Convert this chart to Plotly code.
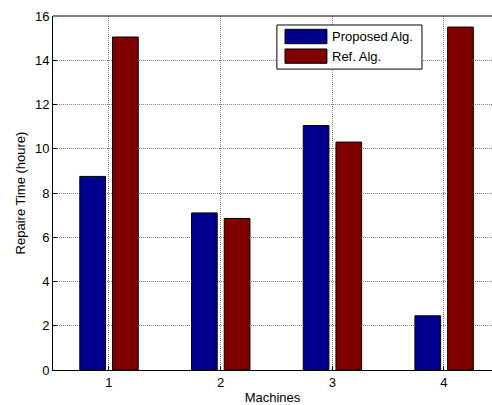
import plotly.graph_objects as go

# Repair time per machine for the two algorithms
machines = [1, 2, 3, 4]
proposed = [8.75, 7.1, 11.05, 2.45]
reference = [15.05, 6.85, 10.3, 15.5]
series_names = ["Proposed Alg.", "Ref. Alg."]
y_ticks = [0, 2, 4, 6, 8, 10, 12, 14, 16]

BLUE = "#00008F"
DARKRED = "#800000"
FONT = "Liberation Sans, Arial, sans-serif"
GRID = "#808080"

fig = go.Figure()
fig.add_trace(go.Bar(x=machines, y=proposed, name=series_names[0],
                     width=0.23, offset=-0.26,
                     marker=dict(color=BLUE, line=dict(color="black", width=1))))
fig.add_trace(go.Bar(x=machines, y=reference, name=series_names[1],
                     width=0.23, offset=0.033,
                     marker=dict(color=DARKRED, line=dict(color="black", width=1))))

# Legend box drawn in paper coordinates
legend_shapes = [
    dict(type="rect", xref="paper", yref="paper", x0=0.510, x1=0.8405, y0=0.850, y1=0.9746,
         line=dict(color="black", width=1), fillcolor="white", layer="above"),
    dict(type="rect", xref="paper", yref="paper", x0=0.5285, x1=0.624, y0=0.9218, y1=0.9624,
         line=dict(color="black", width=1), fillcolor=BLUE, layer="above"),
    dict(type="rect", xref="paper", yref="paper", x0=0.5285, x1=0.624, y0=0.8664, y1=0.9068,
         line=dict(color="black", width=1), fillcolor=DARKRED, layer="above"),
    # top frame line
    dict(type="line", xref="paper", yref="paper", x0=0, x1=1, y0=1, y1=1,
         line=dict(color="black", width=1), layer="above"),
]
legend_text = [
    dict(text=series_names[0], xref="paper", yref="paper", x=0.630, y=0.9421,
         xanchor="left", yanchor="middle", showarrow=False,
         font=dict(family=FONT, size=13, color="black")),
    dict(text=series_names[1], xref="paper", yref="paper", x=0.630, y=0.8866,
         xanchor="left", yanchor="middle", showarrow=False,
         font=dict(family=FONT, size=13, color="black")),
]

fig.update_layout(
    width=492, height=405,
    margin=dict(l=53, r=0, t=16, b=35),
    paper_bgcolor="white", plot_bgcolor="white",
    barmode="overlay",
    showlegend=False,
    font=dict(family=FONT, size=13, color="black"),
    shapes=legend_shapes,
    annotations=legend_text,
    xaxis=dict(
        range=[0.5, 4.43], tickvals=machines, ticktext=[str(m) for m in machines],
        showgrid=True, gridcolor=GRID, griddash="1px,1px", gridwidth=1,
        showline=True, linecolor="black", linewidth=1,
        ticks="inside", ticklen=4, tickcolor="black",
        zeroline=False, tickfont=dict(size=13),
        title=dict(text="Machines", standoff=5, font=dict(size=13)),
    ),
    yaxis=dict(
        range=[0, 16], tickvals=y_ticks,
        showgrid=True, gridcolor=GRID, griddash="1px,1px", gridwidth=1,
        showline=True, linecolor="black", linewidth=1,
        ticks="inside", ticklen=4, tickcolor="black",
        zeroline=False, tickfont=dict(size=13),
        title=dict(text="Repaire Time (houre)", standoff=6, font=dict(size=13)),
    ),
)

fig.write_html("out.html")
